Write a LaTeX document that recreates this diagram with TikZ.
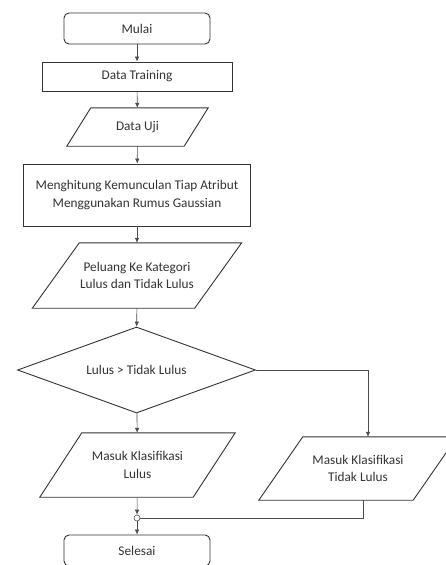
\documentclass[tikz,border=0pt]{standalone}
\usepackage{fontspec}
\setmainfont{Carlito}
\usetikzlibrary{shapes.geometric,arrows.meta}

% outline of an input/output box round a named node
\newcommand{\ioshape}[2]{\draw[boxline] ([xshift=#2]#1.north west) -- ([xshift=#2]#1.north east) -- ([xshift=-#2]#1.south east) -- ([xshift=-#2]#1.south west) -- cycle;}

\begin{document}
\begin{tikzpicture}[x=1pt,y=-1pt,
  every node/.style={font=\fontsize{13.3}{17.5}\selectfont, text=black!80, align=center},
  boxline/.style={draw=black!80, line width=0.9pt},
  terminal/.style={boxline, rounded corners=5pt, minimum width=146pt, minimum height=31pt, inner sep=0pt},
  process/.style={boxline, minimum height=29pt, inner sep=0pt},
  io/.style={minimum height=38pt, inner sep=0pt},
  decision/.style={boxline, diamond, minimum width=238pt, minimum height=86pt, inner sep=0pt, shape aspect=2.77},
  link/.style={draw=black!70, line width=0.6pt},
  arrow/.style={link, -{Latex[length=5pt,width=4.5pt]}}]
\useasboundingbox (0,0) rectangle (446,565);

\node[terminal] (mulai) at (137,28.5) {Mulai};
\node[process, minimum width=190pt] (training) at (137,76.5) {Data Training};
\node[io, minimum width=117pt] (uji) at (137.5,127) {Data Uji}; \ioshape{uji}{12}
\node[process, minimum width=227pt, minimum height=62pt] (hitung) at (137,195) {Menghitung Kemunculan Tiap Atribut\\Menggunakan Rumus Gaussian};
\node[io, minimum width=162pt, minimum height=65pt] (peluang) at (137,275.5) {Peluang Ke Kategori\\Lulus dan Tidak Lulus}; \ioshape{peluang}{23.5}
\node[decision] (cek) at (136.5,370) {Lulus > Tidak Lulus};
\node[io, minimum width=153pt, minimum height=64pt] (lulus) at (137.5,465) {Masuk Klasifikasi\\Lulus}; \ioshape{lulus}{21}
\node[io, minimum width=154pt, minimum height=63pt] (tidak) at (358,468.5) {Masuk Klasifikasi\\Tidak Lulus}; \ioshape{tidak}{22}
\node[draw=black!70, line width=0.6pt, circle, minimum size=6pt, inner sep=0pt] (gabung) at (137,518) {};
\node[terminal] (selesai) at (137,550.5) {Selesai};

\draw[arrow] (mulai) -- (training);
\draw[arrow] (training) -- (uji);
\draw[arrow] (uji) -- (hitung);
\draw[arrow] (hitung) -- (peluang);
\draw[arrow] (peluang) -- (cek);
\draw[arrow] (cek) -- (lulus);
\draw[arrow] (cek.east) -| ([xshift=10]tidak.north);
\draw[link] ([xshift=5]tidak.south) |- (gabung.east);
\draw[arrow] (lulus) -- (gabung);
\draw[arrow] (gabung) -- (selesai);
\end{tikzpicture}
\end{document}
